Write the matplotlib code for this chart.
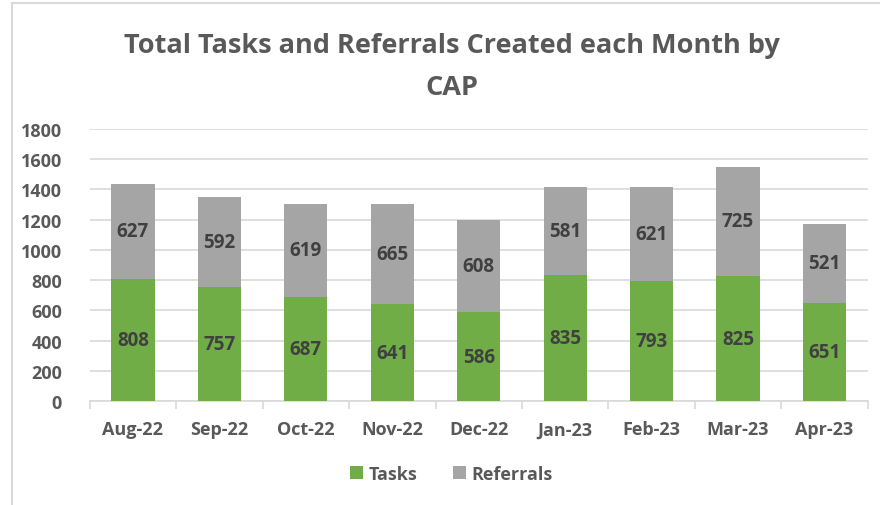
import numpy as np
import matplotlib.pyplot as plt
from matplotlib.patches import Rectangle

# data
months = ['Aug-22', 'Sep-22', 'Oct-22', 'Nov-22', 'Dec-22', 'Jan-23', 'Feb-23', 'Mar-23', 'Apr-23']
tasks = [808, 757, 687, 641, 586, 835, 793, 825, 651]
referrals = [627, 592, 619, 665, 608, 581, 621, 725, 521]

plt.rcParams['font.family'] = ['Open Sans', 'DejaVu Sans']
plt.rcParams['font.weight'] = 'bold'

green = '#70AD47'
grey = '#A5A5A5'
text_col = '#595959'
label_col = '#404040'

fig = plt.figure(figsize=(8.8, 5.06), dpi=100)
ax = fig.add_axes([0.102, 0.2055, 0.884, 0.538])

x = np.arange(len(months))
b1 = ax.bar(x, tasks, width=0.5, color=green, label='Tasks', zorder=3)
b2 = ax.bar(x, referrals, width=0.5, bottom=tasks, color=grey, label='Referrals', zorder=3)

for i in range(len(months)):
    ax.text(x[i], tasks[i] / 2, str(tasks[i]), ha='center', va='center',
            fontsize=13.5, fontweight='bold', color=label_col, zorder=4)
    ax.text(x[i], tasks[i] + referrals[i] / 2, str(referrals[i]), ha='center', va='center',
            fontsize=13.5, fontweight='bold', color=label_col, zorder=4)

ax.set_xlim(-0.5, len(months) - 0.5)
ax.set_ylim(0, 1800)
ax.set_yticks(range(0, 1801, 200))
ax.yaxis.grid(True, color='#D9D9D9', linewidth=1.2, zorder=0)
ax.set_axisbelow(True)

for s in ['top', 'right', 'left']:
    ax.spines[s].set_visible(False)
ax.spines['bottom'].set_color('#D9D9D9')
ax.spines['bottom'].set_linewidth(1.2)

ax.set_xticks(x)
ax.set_xticklabels(months)
ax.set_xticks(np.arange(-0.5, len(months), 1), minor=True)
ax.tick_params(axis='x', which='major', length=0, pad=14, labelsize=13, labelcolor=text_col)
ax.tick_params(axis='x', which='minor', length=6, color='#D9D9D9', width=1.2)
ax.tick_params(axis='y', length=0, pad=20, labelsize=13, labelcolor=text_col)
for lab in ax.get_xticklabels() + ax.get_yticklabels():
    lab.set_fontweight('bold')

fig.text(0.514, 0.868, 'Total Tasks and Referrals Created each Month by\nCAP', ha='center', va='center',
         fontsize=19.5, fontweight='bold', color=text_col, linespacing=1.78)

leg = fig.legend(handles=[b1, b2], loc='center', bbox_to_anchor=(0.513, 0.062), ncol=2,
                 frameon=False, fontsize=13, handlelength=0.7, handleheight=0.7,
                 handletextpad=0.3, columnspacing=2.0)
for t in leg.get_texts():
    t.set_color(text_col)
    t.set_fontweight('bold')

# outer chart border
fig.patches.append(Rectangle((12 / 880, -0.1), 1.2, 1 - 4 / 506 + 0.1, transform=fig.transFigure,
                             fill=False, edgecolor='#D9D9D9', linewidth=1.5))

fig.savefig('out.png', dpi=100)
